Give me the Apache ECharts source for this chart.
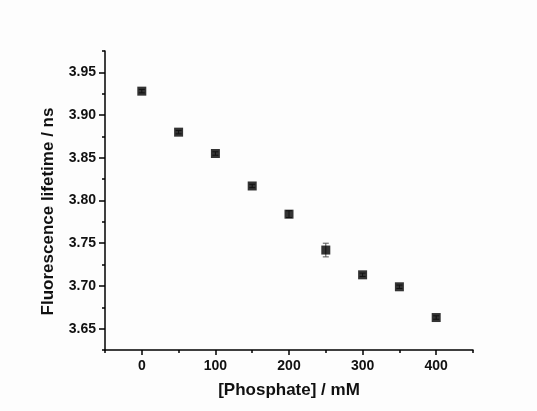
<!DOCTYPE html>
<html>
<head>
<meta charset="utf-8">
<script src="https://cdn.jsdelivr.net/npm/echarts@6/dist/echarts.min.js"></script>
<style>
html,body{margin:0;padding:0;background:#fdfdfd;}
#chart{width:537px;height:411px;}
</style>
</head>
<body>
<div id="chart"></div>
<script>
var phosphate = [0, 50, 100, 150, 200, 250, 300, 350, 400];
var lifetime = [3.928, 3.880, 3.855, 3.817, 3.784, 3.742, 3.713, 3.699, 3.663];
var lifetimeErr = [0.002, 0.002, 0.002, 0.002, 0.004, 0.008, 0.002, 0.002, 0.002];
var xMajorTicks = [0, 100, 200, 300, 400];
var xMinorTicks = [-50, 50, 150, 250, 350, 450];
var yMajorTicks = [3.65, 3.70, 3.75, 3.80, 3.85, 3.90, 3.95];
var yMinorTicks = [3.625, 3.675, 3.725, 3.775, 3.825, 3.875, 3.925, 3.975];

var chart = echarts.init(document.getElementById('chart'), null, {renderer: 'canvas'});
var fontFam = '"Liberation Sans", Arial, sans-serif';
var lineStyle = {color: '#000', width: 1.5};

var points = phosphate.map(function (x, i) { return [x, lifetime[i]]; });
var errData = phosphate.map(function (x, i) { return [x, lifetime[i] - lifetimeErr[i], lifetime[i] + lifetimeErr[i]]; });

chart.setOption({
  backgroundColor: '#fdfdfd',
  animation: false,
  grid: {left: 105, right: 64, top: 51, bottom: 61, containLabel: false},
  xAxis: [{
    type: 'value', min: -50, max: 450,
    name: '[Phosphate] / mM', nameLocation: 'middle', nameGap: 32,
    nameTextStyle: {fontFamily: fontFam, fontWeight: 'bold', fontSize: 17, color: '#111'},
    axisLine: {show: true, onZero: false, lineStyle: lineStyle},
    axisTick: {show: true, inside: false, length: 5, lineStyle: lineStyle, customValues: xMajorTicks},
    axisLabel: {show: true, margin: 9, fontFamily: fontFam, fontWeight: 'bold', fontSize: 14, color: '#111', customValues: xMajorTicks},
    splitLine: {show: false}
  }, {
    type: 'value', min: -50, max: 450, position: 'bottom', offset: 0,
    axisLine: {show: false, onZero: false},
    axisTick: {show: true, inside: false, length: 3, lineStyle: lineStyle, customValues: xMinorTicks},
    axisLabel: {show: false},
    splitLine: {show: false}
  }],
  yAxis: [{
    type: 'value', min: 3.625, max: 3.975,
    name: 'Fluorescence lifetime / ns', nameLocation: 'middle', nameGap: 48,
    nameTextStyle: {fontFamily: fontFam, fontWeight: 'bold', fontSize: 17, color: '#111', padding: [0, 22, 0, 0]},
    axisLine: {show: true, onZero: false, lineStyle: lineStyle},
    axisTick: {show: true, inside: false, length: 6, lineStyle: lineStyle, customValues: yMajorTicks},
    axisLabel: {show: true, margin: 9, fontFamily: fontFam, fontWeight: 'bold', fontSize: 14, color: '#111', customValues: yMajorTicks,
      formatter: function (v) { return v.toFixed(2); }},
    splitLine: {show: false}
  }, {
    type: 'value', min: 3.625, max: 3.975, position: 'left', offset: 0,
    axisLine: {show: false, onZero: false},
    axisTick: {show: true, inside: false, length: 3, lineStyle: lineStyle, customValues: yMinorTicks},
    axisLabel: {show: false},
    splitLine: {show: false}
  }],
  series: [{
    type: 'custom',
    xAxisIndex: 0, yAxisIndex: 0,
    data: errData,
    renderItem: function (params, api) {
      var x = api.value(0);
      var lo = api.coord([x, api.value(1)]);
      var hi = api.coord([x, api.value(2)]);
      var w = 3;
      var st = {stroke: '#555', lineWidth: 1};
      return {type: 'group', children: [
        {type: 'line', shape: {x1: lo[0], y1: lo[1], x2: hi[0], y2: hi[1]}, style: st},
        {type: 'line', shape: {x1: lo[0] - w, y1: lo[1], x2: lo[0] + w, y2: lo[1]}, style: st},
        {type: 'line', shape: {x1: hi[0] - w, y1: hi[1], x2: hi[0] + w, y2: hi[1]}, style: st}
      ]};
    },
    z: 2
  }, {
    type: 'scatter',
    xAxisIndex: 0, yAxisIndex: 0,
    symbol: 'rect', symbolSize: 9,
    itemStyle: {color: '#000'},
    data: points,
    z: 3
  }]
});
</script>
</body>
</html>
